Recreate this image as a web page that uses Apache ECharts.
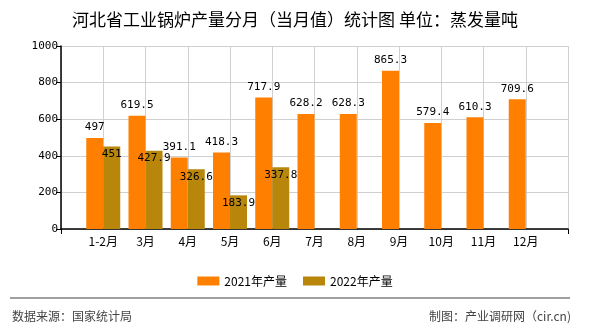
<!DOCTYPE html>
<html><head><meta charset="utf-8">
<script src="https://cdn.jsdelivr.net/npm/echarts@6/dist/echarts.min.js"></script>
<style>html,body{margin:0;padding:0;background:#fff}#c{width:590px;height:330px}</style>
</head><body><div id="c"></div>
<script>
var categories = ['', '1-2月', '3月', '4月', '5月', '6月', '7月', '8月', '9月', '10月', '11月', '12月', ''];
var series2021 = [null, 497, 619.5, 391.1, 418.3, 717.9, 628.2, 628.3, 865.3, 579.4, 610.3, 709.6, null];
var series2022 = [null, 451, 427.9, 326.6, 183.9, 337.8, null, null, null, null, null, null, null];
var seriesNames = ['2021年产量', '2022年产量'];
var yTicks = [0, 200, 400, 600, 800, 1000];

var chart = echarts.init(document.getElementById('c'));
var monoFont = '"DejaVu Sans Mono", monospace';
var cjk = '"Noto Sans CJK SC", sans-serif';
chart.setOption({
  animation: false,
  backgroundColor: '#fff',
  title: {
    text: '河北省工业锅炉产量分月（当月值）统计图 单位：蒸发量吨',
    left: 'center', top: 6,
    textStyle: { fontFamily: cjk, fontSize: 17, fontWeight: 'normal', color: '#000' }
  },
  legend: {
    data: seriesNames,
    left: 'center', top: 270,
    itemWidth: 22, itemHeight: 9, itemGap: 16,
    icon: 'rect',
    textStyle: { fontFamily: cjk, fontSize: 12, color: '#000' }
  },
  grid: { left: 61, right: 22, top: 46, bottom: 101, containLabel: false },
  xAxis: {
    type: 'category', data: categories, boundaryGap: false,
    axisLine: { lineStyle: { color: '#000', width: 1.5 } },
    axisTick: { show: true, length: 5, interval: function (i) { return i === 0 || i === categories.length - 1; }, lineStyle: { color: '#000' } },
    axisLabel: { interval: 0, fontFamily: cjk, fontSize: 12, color: '#000', margin: 6 },
    splitLine: { show: true, interval: 0, lineStyle: { color: '#d0d0d0', width: 1 } }
  },
  yAxis: {
    type: 'value', min: yTicks[0], max: yTicks[yTicks.length - 1], interval: 200,
    axisLine: { show: true, lineStyle: { color: '#000', width: 1.5 } },
    axisTick: { show: true, length: 5, lineStyle: { color: '#000' } },
    axisLabel: { fontFamily: monoFont, fontSize: 11, color: '#000', margin: 3,
      formatter: function (v) { return String(v); } },
    splitLine: { show: true, lineStyle: { color: '#d0d0d0', width: 1 } }
  },
  series: [
    {
      name: seriesNames[0], type: 'bar', data: series2021, barWidth: 17, barGap: '0%',
      itemStyle: { color: '#FF8000' },
      label: { show: true, position: 'top', distance: 5, fontFamily: monoFont, fontSize: 11, color: '#000',
        formatter: function (p) { return p.value; } }
    },
    {
      name: seriesNames[1], type: 'bar', data: series2022, barWidth: 17, barGap: '0%',
      itemStyle: { color: '#B8860B' },
      label: { show: true, position: 'insideTop', distance: 2, fontFamily: monoFont, fontSize: 11, color: '#000',
        formatter: function (p) { return p.value; } }
    }
  ],
  graphic: [
    { type: 'line', shape: { x1: 10, y1: 298, x2: 570, y2: 298 }, style: { stroke: '#808080', lineWidth: 1.5 } },
    { type: 'text', left: 12, top: 310, style: { text: '数据来源：国家统计局', fontFamily: cjk, fontSize: 12, fill: '#444' } },
    { type: 'text', right: 19, top: 310, style: { text: '制图：产业调研网（cir.cn)', fontFamily: cjk, fontSize: 12, fill: '#444' } }
  ]
});
</script></body></html>
